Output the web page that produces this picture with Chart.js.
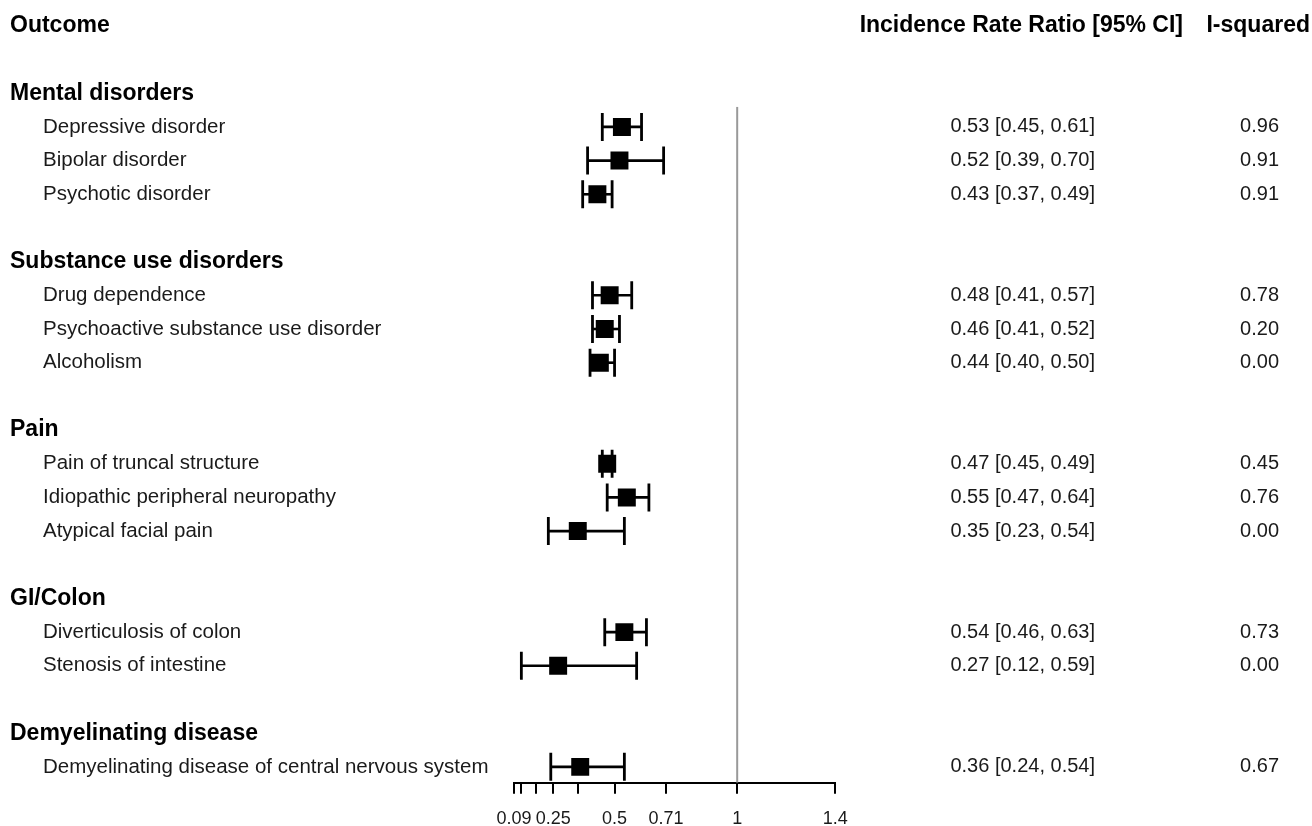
<!DOCTYPE html>
<html>
<head>
<meta charset="utf-8">
<script src="https://cdn.jsdelivr.net/npm/chart.js@4/dist/chart.umd.min.js"></script>
<style>
  html, body { margin: 0; padding: 0; background: #fff; }
  #wrap { width: 1312px; height: 826px; }
</style>
</head>
<body>
<div id="wrap"><canvas id="forest" width="1312" height="826"></canvas></div>
<script>
// groups and their row index (row 0 = column headers)
const groupNames = ['Mental disorders', 'Substance use disorders', 'Pain', 'GI/Colon', 'Demyelinating disease'];
const groupRows = [2, 7, 12, 17, 21];

// outcomes
const outcomes = [
  'Depressive disorder', 'Bipolar disorder', 'Psychotic disorder',
  'Drug dependence', 'Psychoactive substance use disorder', 'Alcoholism',
  'Pain of truncal structure', 'Idiopathic peripheral neuropathy', 'Atypical facial pain',
  'Diverticulosis of colon', 'Stenosis of intestine',
  'Demyelinating disease of central nervous system'
];
const outcomeRows = [3, 4, 5, 8, 9, 10, 13, 14, 15, 18, 19, 22];
const irr   = [0.53, 0.52, 0.43, 0.48, 0.46, 0.44, 0.47, 0.55, 0.35, 0.54, 0.27, 0.36];
const lower = [0.45, 0.39, 0.37, 0.41, 0.41, 0.40, 0.45, 0.47, 0.23, 0.46, 0.12, 0.24];
const upper = [0.61, 0.70, 0.49, 0.57, 0.52, 0.50, 0.49, 0.64, 0.54, 0.63, 0.59, 0.54];
const iSquared = [0.96, 0.91, 0.91, 0.78, 0.20, 0.00, 0.45, 0.76, 0.00, 0.73, 0.00, 0.67];

// x axis ticks
const xTickValues = [0.09, 0.12, 0.18, 0.25, 0.35, 0.5, 0.71, 1, 1.4];
const xTickLabels = ['0.09', '', '', '0.25', '', '0.5', '0.71', '1', '1.4'];
const refValue = 1;

const NORMAL = '20.5px "Liberation Sans", Arial, sans-serif';
const NUMS = '20px "Liberation Sans", Arial, sans-serif';
const BOLD = 'bold 23px "Liberation Sans", Arial, sans-serif';

// CI whiskers drawn below the squares
const ciPlugin = {
  id: 'ciBars',
  beforeDatasetsDraw(chart) {
    const { ctx, scales: { x, y } } = chart;
    ctx.save();
    ctx.strokeStyle = '#000';
    ctx.lineCap = 'butt';
    outcomes.forEach((_, i) => {
      const py = y.getPixelForValue(outcomeRows[i]);
      const x1 = x.getPixelForValue(lower[i]);
      const x2 = x.getPixelForValue(upper[i]);
      ctx.lineWidth = 2.6;
      ctx.beginPath();
      ctx.moveTo(x1, py); ctx.lineTo(x2, py);
      ctx.stroke();
      ctx.lineWidth = 2.8;
      ctx.beginPath();
      ctx.moveTo(x1, py - 14); ctx.lineTo(x1, py + 14);
      ctx.moveTo(x2, py - 14); ctx.lineTo(x2, py + 14);
      ctx.stroke();
    });
    ctx.restore();
  }
};

// labels and text columns
const textPlugin = {
  id: 'forestText',
  afterDraw(chart) {
    const { ctx, scales: { y } } = chart;
    ctx.save();
    ctx.textBaseline = 'middle';
    ctx.fillStyle = '#000';
    ctx.font = BOLD;
    ctx.textAlign = 'left';
    const hy = y.getPixelForValue(0);
    ctx.fillText('Outcome', 10, hy);
    ctx.textAlign = 'right';
    ctx.fillText('Incidence Rate Ratio [95% CI]', 1183, hy);
    ctx.fillText('I-squared', 1310, hy);
    ctx.textAlign = 'left';
    groupNames.forEach((g, i) => ctx.fillText(g, 10, y.getPixelForValue(groupRows[i])));

    ctx.fillStyle = '#1a1a1a';
    outcomes.forEach((o, i) => {
      const py = y.getPixelForValue(outcomeRows[i]);
      ctx.font = NORMAL;
      ctx.textAlign = 'left';
      ctx.fillText(o, 43, py);
      ctx.font = NUMS;
      ctx.textAlign = 'right';
      ctx.fillText(irr[i].toFixed(2) + ' [' + lower[i].toFixed(2) + ', ' + upper[i].toFixed(2) + ']', 1095, py);
      ctx.fillText(iSquared[i].toFixed(2), 1279, py);
    });
    ctx.restore();
  }
};

new Chart(document.getElementById('forest'), {
  type: 'scatter',
  data: {
    datasets: [
      {
        type: 'line',
        data: [{ x: refValue, y: 2.4 }, { x: refValue, y: 22.47 }],
        borderColor: '#999999',
        borderWidth: 2,
        pointRadius: 0,
        order: 2
      },
      {
        data: irr.map((v, i) => ({ x: v, y: outcomeRows[i] })),
        pointStyle: 'rect',
        pointRadius: 12.7,
        backgroundColor: '#000',
        borderWidth: 0,
        order: 1
      }
    ]
  },
  options: {
    responsive: false,
    animation: false,
    devicePixelRatio: 1,
    layout: { padding: { left: 514, right: 476.7, top: 106.7, bottom: 0 } },
    plugins: { legend: { display: false }, tooltip: { enabled: false } },
    scales: {
      x: {
        type: 'linear',
        min: 0.09,
        max: 1.4,
        afterBuildTicks: axis => { axis.ticks = xTickValues.map(v => ({ value: v })); },
        afterFit: axis => { axis.height = 43.3; },
        ticks: {
          autoSkip: false,
          maxRotation: 0,
          padding: 15,
          color: '#1a1a1a',
          font: { family: '"Liberation Sans", Arial, sans-serif', size: 18 },
          callback: (value, index) => xTickLabels[index]
        },
        grid: { drawOnChartArea: false, drawTicks: true, tickLength: 11, color: '#000', lineWidth: 2 },
        border: { display: true, color: '#000', width: 2 }
      },
      y: {
        type: 'linear',
        reverse: true,
        min: 2.4,
        max: 22.47,
        display: false
      }
    }
  },
  plugins: [ciPlugin, textPlugin]
});
</script>
</body>
</html>
